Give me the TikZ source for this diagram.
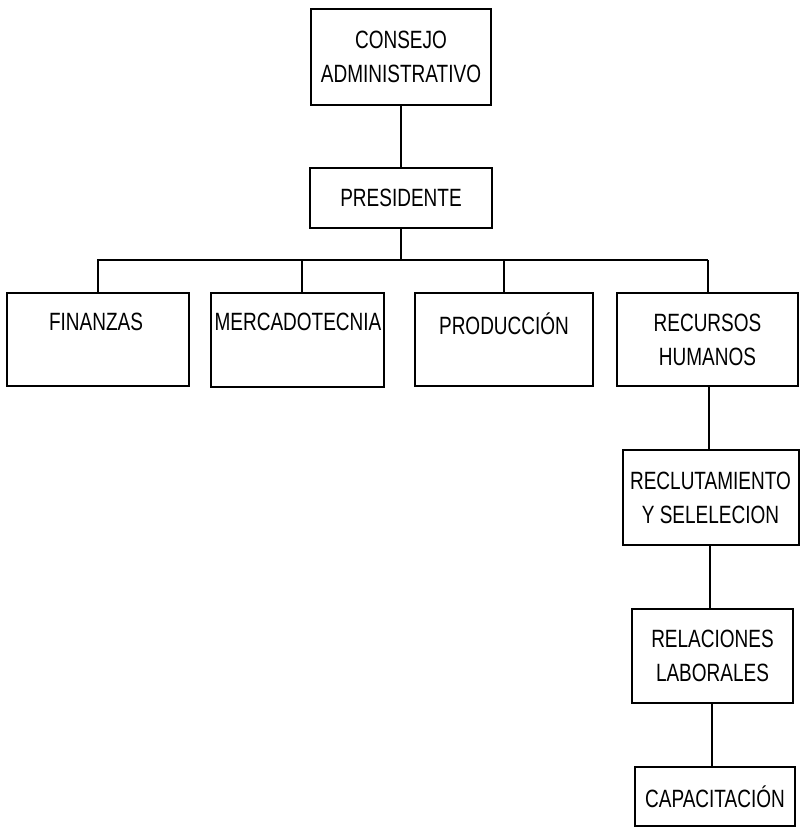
\documentclass[tikz,border=0pt]{standalone}
\usepackage{fontspec}
\setmainfont{Liberation Sans}[FakeStretch=0.76]
\begin{document}
\begin{tikzpicture}[x=1pt,y=-1pt,
  box/.style={draw, line width=2pt, inner sep=0pt, align=center,
    font=\fontsize{25}{34}\selectfont},
  lbl/.style={inner sep=0pt, align=center, font=\fontsize{25}{34}\selectfont},
  conn/.style={line width=2pt}]
\path[use as bounding box, fill=white] (0,0) rectangle (800,828);
% boxes
\node[box, minimum width=180pt, minimum height=96pt] (cons) at (401,57) {CONSEJO\\ADMINISTRATIVO};
\node[box, minimum width=182pt, minimum height=60pt] (pres) at (401,198) {PRESIDENTE};
\node[box, minimum width=182pt, minimum height=93pt] (fin) at (97.5,339.5) {};
\node[lbl] (tfin) at (96,322) {FINANZAS};
\node[box, minimum width=173pt, minimum height=94pt] (merc) at (297.5,339.5) {};
\node[lbl] (tmerc) at (298,322) {MERCADOTECNIA};
\node[box, minimum width=178pt, minimum height=93pt] (prod) at (504,339.5) {};
\node[lbl] (tprod) at (504,324) {PRODUCCIÓN};
\node[box, minimum width=181pt, minimum height=93pt] (rrhh) at (707.5,339.5) {RECURSOS\\HUMANOS};
\node[box, minimum width=176pt, minimum height=95pt] (recl) at (710.5,497.5) {RECLUTAMIENTO\\Y SELELECION};
\node[box, minimum width=161pt, minimum height=94pt] (rel) at (712.5,656) {RELACIONES\\LABORALES};
\node[box, minimum width=160pt, minimum height=59pt] (cap) at (715,796.5) {CAPACITACIÓN};
% bus
\coordinate (busL) at (97,260);
\coordinate (busR) at (707.5,260);
% connectors
\draw[conn] (cons.south) -- (pres.north);
\draw[conn] (pres.south) -- (pres.south |- busL);
\draw[conn] (busL) -- (busR);
\draw[conn] (fin.north) -- (fin.north |- busL);
\draw[conn] ([xshift=4.5pt]merc.north) -- ([xshift=4.5pt]merc.north |- busL);
\draw[conn] (prod.north) -- (prod.north |- busL);
\draw[conn] (rrhh.north) -- (busR);
\draw[conn] ([xshift=-1.5pt]recl.north) -- ([xshift=-1.5pt]recl.north |- rrhh.south);
\draw[conn] ([xshift=-2.5pt]rel.north) -- ([xshift=-2.5pt]rel.north |- recl.south);
\draw[conn] ([xshift=-3pt]cap.north) -- ([xshift=-3pt]cap.north |- rel.south);
\end{tikzpicture}
\end{document}
